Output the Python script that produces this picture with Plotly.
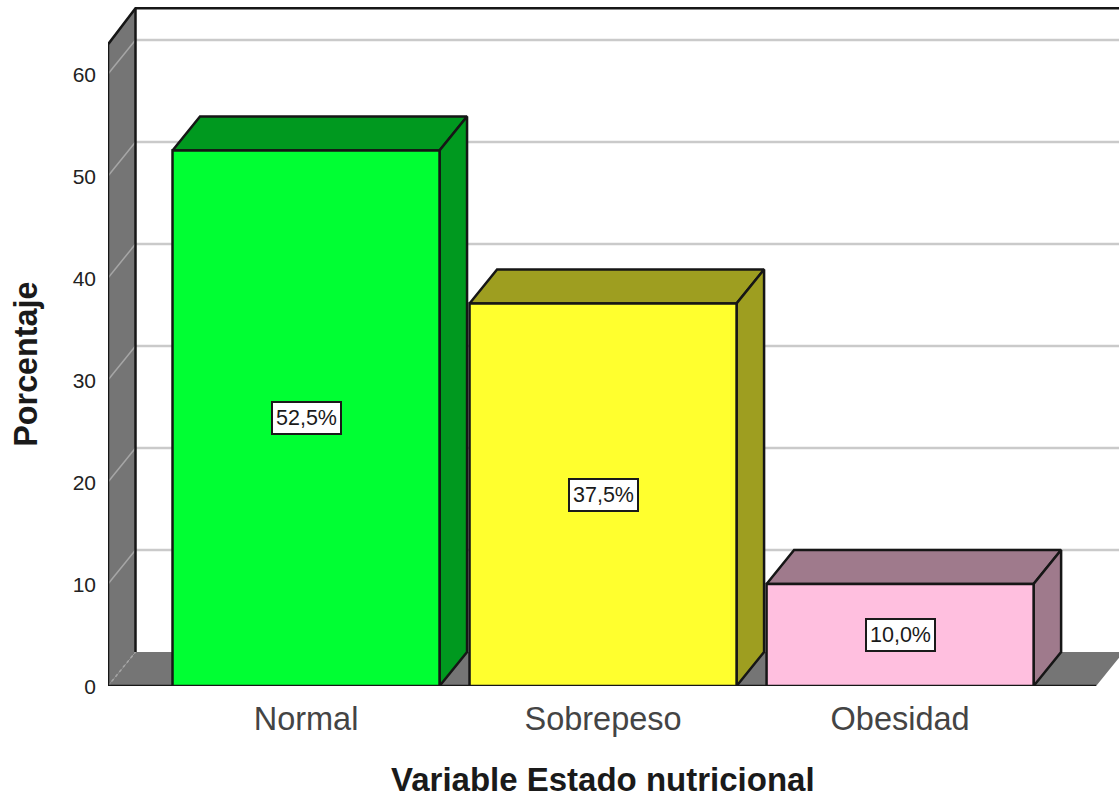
import plotly.graph_objects as go

# Chart data
categories = ["Normal", "Sobrepeso", "Obesidad"]
percentages = [52.5, 37.5, 10.0]
value_labels = ["52,5%", "37,5%", "10,0%"]
y_ticks = [0, 10, 20, 30, 40, 50, 60]

# Colours: front face and shaded sides of each bar
front_colors = ["#00FF33", "#FFFF2E", "#FFBFDF"]
side_colors = ["#00991F", "#9E9E20", "#9F7A8C"]
WALL_GREY = "#757575"
EDGE = "#161616"
GRID_BACK = "#cacaca"
GRID_WALL = "#a6a6a6"

# Pseudo-3D geometry in axis units
X_MIN, X_MAX = -0.6667, 2.737
FLOOR_RIGHT = 2.66
Y_MAX = 67.25
WALL_TOP = 62.9
DX = 0.0926
DY = 3.33
HALF_W = 0.4495
EDGE_W = 2.5

fig = go.Figure()


def poly(xs, ys, fill=None, line=None, width=EDGE_W, dash=None):
    closed = fill is not None
    fig.add_trace(go.Scatter(
        x=list(xs) + ([xs[0]] if closed else []),
        y=list(ys) + ([ys[0]] if closed else []),
        mode="lines",
        fill="toself" if closed else None,
        fillcolor=fill,
        line=dict(color=line or "rgba(0,0,0,0)", width=width, dash=dash),
        hoverinfo="skip",
        showlegend=False,
        cliponaxis=False,
    ))


left = X_MIN
back = X_MIN + DX
back_top = WALL_TOP + DY + 0.22

# Floor and left wall
poly([left, back, FLOOR_RIGHT + DX, FLOOR_RIGHT], [0, DY, DY, 0], fill=WALL_GREY)
poly([left, back, back, left], [0, DY, back_top, WALL_TOP], fill=WALL_GREY)

# Gridlines on the back wall and across the left wall
for t in y_ticks:
    if t > 0:
        poly([back, X_MAX], [t + DY, t + DY], line=GRID_BACK)
    poly([left, back], [t, t + DY], line=GRID_WALL, width=1.5, dash="dot" if t == 0 else None)

# Wall outlines
poly([left, left, back, X_MAX], [0, WALL_TOP, back_top, back_top], line=EDGE)
poly([back, back], [DY, back_top], line=EDGE)
poly([left, FLOOR_RIGHT], [0, 0], line=EDGE)

# Bars: top, side, then front face
for i, v in enumerate(percentages):
    x0, x1 = i - HALF_W, i + HALF_W
    poly([x0, x0 + DX, x1 + DX, x1], [v, v + DY, v + DY, v], fill=side_colors[i], line=EDGE)
    poly([x1, x1 + DX, x1 + DX, x1], [0, DY, v + DY, v], fill=side_colors[i], line=EDGE)
    poly([x0, x1, x1, x0], [0, 0, v, v], fill=front_colors[i], line=EDGE)
    fig.add_annotation(
        x=i, y=v / 2, text=value_labels[i], showarrow=False,
        font=dict(family="Liberation Sans", size=21.5, color="#1a1a1a"),
        bgcolor="white", bordercolor="#1a1a1a", borderwidth=2, borderpad=3,
    )

# Axis titles, placed relative to the bars
fig.add_annotation(
    x=1, xref="x", y=-0.137, yref="paper", yanchor="middle",
    text="<b>Variable Estado nutricional</b>", showarrow=False,
    font=dict(family="Liberation Sans", size=33, color="#1a1a1a"),
)
fig.add_annotation(
    x=0, xref="paper", xanchor="center", xshift=-82, y=31.5, yref="y", textangle=-90,
    text="<b>Porcentaje</b>", showarrow=False,
    font=dict(family="Liberation Sans", size=32.3, color="#1a1a1a"),
)

fig.update_layout(
    width=1119, height=799,
    margin=dict(l=108, r=0, t=0, b=113, autoexpand=False),
    paper_bgcolor="white", plot_bgcolor="white",
    font=dict(family="Liberation Sans", color="#222222"),
    xaxis=dict(
        range=[X_MIN, X_MAX], tickmode="array",
        tickvals=list(range(len(categories))), ticktext=categories,
        showgrid=False, zeroline=False, showline=False, ticks="",
        ticklabelstandoff=10,
        tickfont=dict(size=32.5, color="#444444"),
    ),
    yaxis=dict(
        range=[0, Y_MAX], tickmode="array", tickvals=y_ticks,
        showgrid=False, zeroline=False, showline=False, ticks="",
        ticklabelstandoff=11, ticklabelshift=1,
        tickfont=dict(size=21, color="#222222"),
    ),
)

fig.write_html("out.html")
